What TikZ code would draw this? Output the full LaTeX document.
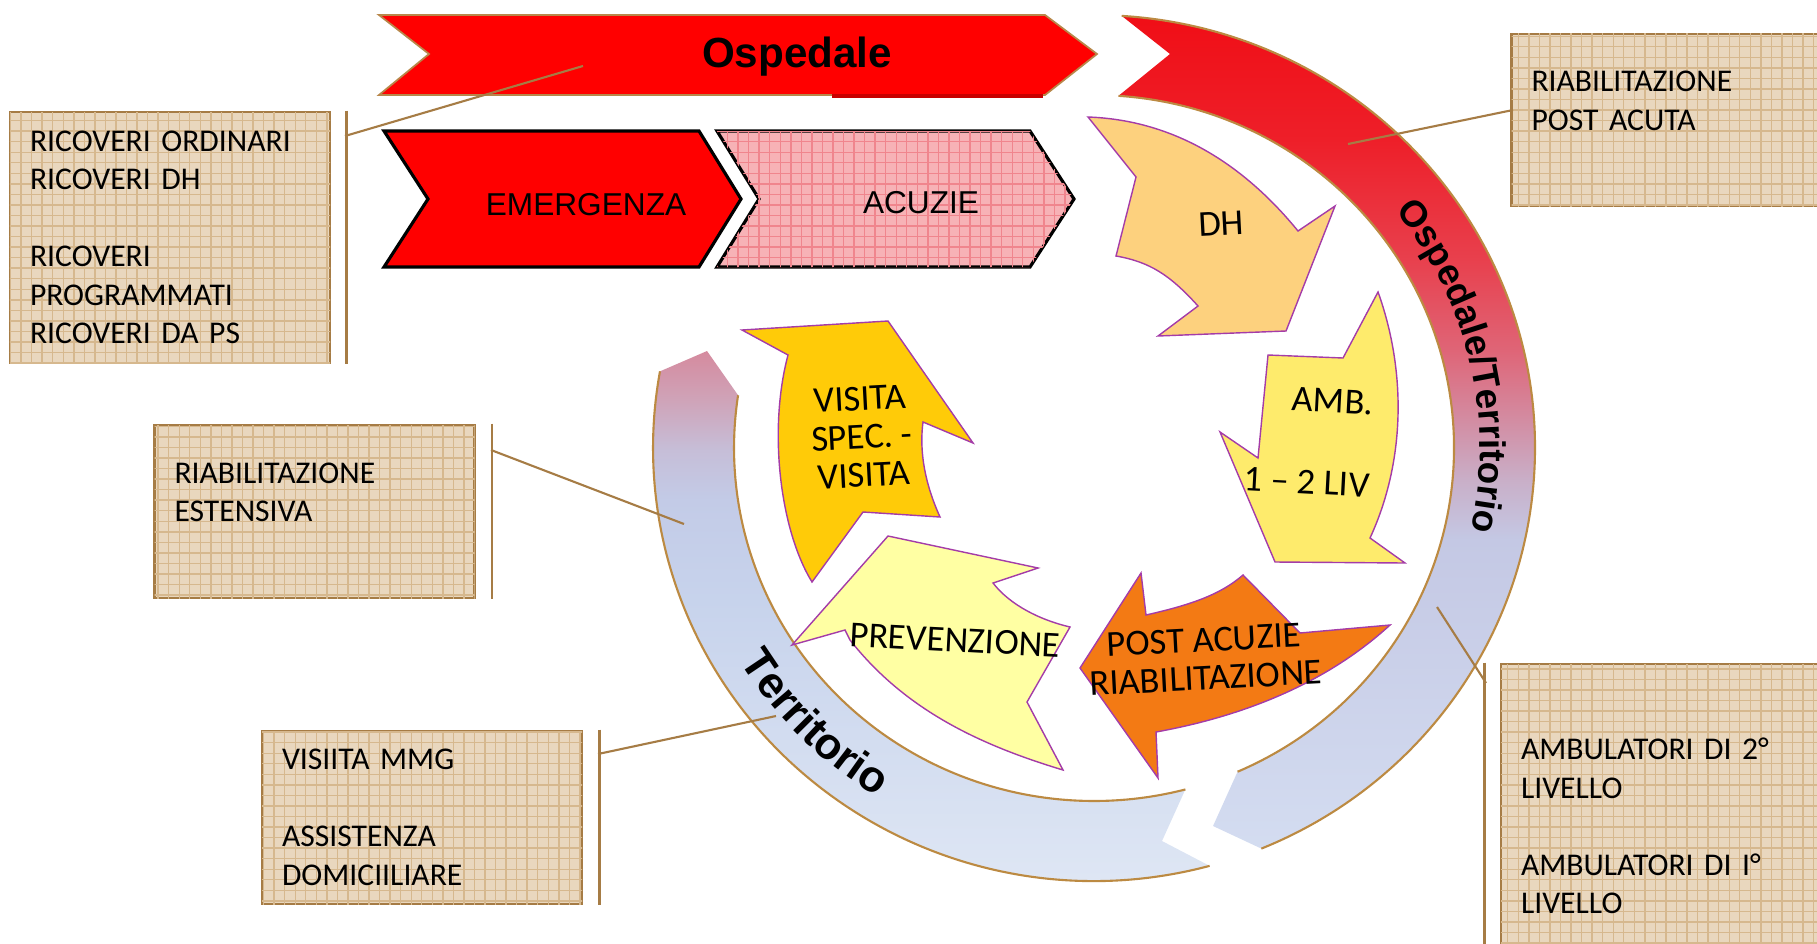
\documentclass[tikz,border=0pt]{standalone}
\usepackage{fontspec}
\setmainfont{Carlito}
\newfontfamily\arialfont{Liberation Sans}
\usetikzlibrary{patterns,decorations.text}

\definecolor{sabbia}{HTML}{E9D7BE}
\definecolor{grigliasabbia}{HTML}{D6B88E}
\definecolor{marrone}{HTML}{A67C45}
\definecolor{rossoosp}{HTML}{FF0000}
\definecolor{rossoscuro}{HTML}{C80000}
\definecolor{bordochev}{HTML}{B8874A}
\definecolor{rosaacuzie}{HTML}{F7B2B6}
\definecolor{grigliaacuzie}{HTML}{F0858D}
\definecolor{viola}{HTML}{A43CA8}
\definecolor{bordoanello}{HTML}{BC8A42}
\definecolor{fondoDH}{HTML}{FDD17E}
\definecolor{fondoAMB}{HTML}{FEEB6C}
\definecolor{fondoPOST}{HTML}{F37A14}
\definecolor{fondoPREV}{HTML}{FFFFA3}
\definecolor{fondoVIS}{HTML}{FFCB08}
% sfumature anello
\definecolor{dxA}{HTML}{D4DDF1}
\definecolor{dxB}{HTML}{C4C8E4}
\definecolor{dxC}{HTML}{C9AFC8}
\definecolor{dxD}{HTML}{D38CA2}
\definecolor{dxE}{HTML}{DF6577}
\definecolor{dxF}{HTML}{E8404D}
\definecolor{dxG}{HTML}{EE1F29}
\definecolor{dxH}{HTML}{F00E16}
\definecolor{sxA}{HTML}{DEE6F4}
\definecolor{sxB}{HTML}{C7D3EC}
\definecolor{sxC}{HTML}{C3CBE7}
\definecolor{sxD}{HTML}{C6BED8}
\definecolor{sxE}{HTML}{CFA3B8}
\definecolor{sxF}{HTML}{D58A9E}
\pgfdeclareverticalshading{anellodx}{100bp}{color(0bp)=(dxA); color(25bp)=(dxA);
  color(43.9bp)=(dxB); color(47.4bp)=(dxC); color(51bp)=(dxD); color(55.1bp)=(dxE);
  color(60.5bp)=(dxF); color(67.6bp)=(dxG); color(75bp)=(dxH); color(100bp)=(dxH)}
\pgfdeclareverticalshading{anellosx}{100bp}{color(0bp)=(sxA); color(25bp)=(sxA);
  color(51.5bp)=(sxB); color(60.9bp)=(sxC); color(65.6bp)=(sxD); color(70.4bp)=(sxE);
  color(75bp)=(sxF); color(100bp)=(sxF)}

\begin{document}
\begin{tikzpicture}[
        infobox/.style={draw=marrone, line width=0.8pt, fill=sabbia,
          postaction={pattern=grid, pattern color=grigliasabbia},
          inner xsep=0.2cm, text width=2.8cm, align=left,
          font=\fontsize{9}{10.95}\selectfont},
        barra/.style={draw=marrone, line width=0.8pt},
        colleg/.style={draw=marrone, line width=0.6pt},
        chevosp/.style={fill=rossoosp, draw=bordochev, line width=0.5pt},
        chevrosso/.style={fill=rossoosp, draw=black, line width=0.9pt},
        chevrosa/.style={fill=rosaacuzie, draw=black, line width=0.9pt,
          postaction={pattern=grid, pattern color=grigliaacuzie}},
        freccia/.style={draw=viola, line width=0.4pt},
        etfreccia/.style={font=\fontsize{10.4}{10.9}\selectfont, align=center, inner sep=0pt},
        etchev/.style={font=\arialfont\fontsize{9}{9}\selectfont, anchor=base},
        bordoarco/.style={draw=bordoanello, line width=0.6pt}
    ]
        \useasboundingbox (0,0) rectangle (18.17,9.43);
        \clip (0,0) rectangle (18.17,9.43);

        % anello
        \begin{scope}[shift={(10.94,4.95)}]
            % arco ospedale/territorio
            \begin{scope}
                \clip (86.4:4.41 and 4.33) arc[start angle=86.4, end angle=-67.7, x radius=4.41, y radius=4.33]
                    -- (1.19,-3.78) -- (-66.5:3.60 and 3.53)
                    arc[start angle=-66.5, end angle=86.1, x radius=3.60, y radius=3.53]
                    -- (0.76,3.94) -- cycle;
                \shade[shading=anellodx] (-4.6,-4.10) rectangle (4.6,4.33);
            \end{scope}
            \draw[bordoarco] (86.4:4.41 and 4.33) arc[start angle=86.4, end angle=-67.7, x radius=4.41, y radius=4.33];
            \draw[bordoarco] (86.1:3.60 and 3.53) arc[start angle=86.1, end angle=-66.5, x radius=3.60, y radius=3.53];
            % arco territorio
            \begin{scope}
                \clip (-74.8:4.41 and 4.33) arc[start angle=-74.8, end angle=-190.2, x radius=4.41, y radius=4.33]
                    -- (-3.87,0.97) -- (-188.6:3.60 and 3.53)
                    arc[start angle=-188.6, end angle=-75.3, x radius=3.60, y radius=3.53]
                    -- (0.68,-3.93) -- cycle;
                \shade[shading=anellosx] (-4.6,-4.32) rectangle (4.6,0.97);
            \end{scope}
            \draw[bordoarco] (-74.8:4.41 and 4.33) arc[start angle=-74.8, end angle=-190.2, x radius=4.41, y radius=4.33];
            \draw[bordoarco] (-75.3:3.60 and 3.53) arc[start angle=-75.3, end angle=-188.6, x radius=3.60, y radius=3.53];
            % scritte sull'anello
            \path[decorate, decoration={text along path, text align=center,
                text={|\arialfont\bfseries\fontsize{10.5}{10.5}\selectfont|Ospedale/Territorio}}]
                (45:3.86 and 3.79) arc[start angle=45, end angle=-19, x radius=3.86, y radius=3.79];
            \path[decorate, decoration={text along path, text align=center,
                text={|\arialfont\bfseries\fontsize{12.5}{12.5}\selectfont|Territorio}}]
                (200:4.16 and 4.08) arc[start angle=200, end angle=250, x radius=4.16, y radius=4.08];
        \end{scope}

        % frecce interne
        \draw[freccia, fill=fondoDH] (10.88,8.26) .. controls (11.70,8.23) and (12.40,7.83) .. (12.98,7.12)
            -- (13.35,7.37) -- (12.86,6.12) -- (11.58,6.07) -- (11.98,6.37)
            .. controls (11.70,6.68) and (11.50,6.81) .. (11.16,6.87) -- (11.36,7.66) -- cycle;
        \draw[freccia, fill=fondoAMB] (12.68,5.88) -- (13.43,5.85) -- (13.78,6.51)
            .. controls (14.06,5.73) and (14.06,4.83) .. (13.70,4.05)
            -- (14.05,3.80) -- (12.75,3.81) -- (12.20,5.11) -- (12.58,4.85) -- cycle;
        \draw[freccia, fill=fondoPOST] (11.41,3.70) -- (11.46,3.28)
            .. controls (11.90,3.38) and (12.20,3.48) .. (12.43,3.68)
            -- (13.00,3.10) -- (13.90,3.18)
            .. controls (13.30,2.63) and (12.50,2.28) .. (11.56,2.11)
            -- (11.58,1.65) -- (10.80,2.75) -- cycle;
        \draw[freccia, fill=fondoPREV] (8.88,4.07) -- (10.38,3.75) -- (9.93,3.60)
            .. controls (10.10,3.38) and (10.40,3.23) .. (10.70,3.16)
            -- (10.27,2.41) -- (10.63,1.73)
            .. controls (9.80,1.98) and (9.05,2.33) .. (8.50,3.03)
            -- (8.45,3.13) -- (7.92,2.98) -- cycle;
        \draw[freccia, fill=fondoVIS] (7.42,6.13) -- (8.88,6.22) -- (9.73,5.00) -- (9.23,5.21)
            .. controls (9.18,4.83) and (9.30,4.48) .. (9.40,4.26)
            -- (8.63,4.31) -- (8.12,3.61)
            .. controls (7.80,4.13) and (7.68,5.13) .. (7.88,5.88) -- cycle;
        \node[etfreccia, rotate=3] (dh) at (12.21,7.19) {DH};
        \node[etfreccia, align=right, rotate=-3] (amb) at (13.09,5.02) {AMB.\\[0.44cm]1 -- 2 LIV};
        \node[etfreccia, rotate=3] (post) at (12.05,2.84) {POST ACUZIE\\RIABILITAZIONE};
        \node[etfreccia, rotate=-3] (prev) at (9.55,3.03) {PREVENZIONE};
        \node[etfreccia, rotate=3] (visita) at (8.62,5.06) {VISITA\\SPEC. -\\VISITA};

        % chevron
        \draw[chevosp] (3.79,9.28) -- (10.45,9.28) -- (10.97,8.89) -- (10.45,8.48)
            -- (3.79,8.48) -- (4.29,8.89) -- cycle;
        \draw[rossoscuro, line width=1pt] (8.32,8.47) -- (10.43,8.47);
        \draw[chevrosso] (3.84,8.12) -- (6.99,8.12) -- (7.41,7.44) -- (6.99,6.76)
            -- (3.84,6.76) -- (4.28,7.44) -- cycle;
        \draw[chevrosa] (7.17,8.12) -- (10.30,8.12) -- (10.74,7.44) -- (10.30,6.76)
            -- (7.17,6.76) -- (7.59,7.44) -- cycle;
        \node[anchor=base, font=\arialfont\bfseries\fontsize{12}{12}\selectfont] (osp) at (7.97,8.75) {Ospedale};
        \node[etchev] (emerg) at (5.86,7.28) {EMERGENZA};
        \node[etchev] (acuzie) at (9.21,7.30) {ACUZIE};

        % riquadri
        \node[infobox, minimum height=2.51cm] (ricoveri) at (1.70,7.055)
            {RICOVERI ORDINARI\\RICOVERI DH\\~\\RICOVERI\\PROGRAMMATI\\RICOVERI DA PS};
        \node[infobox, minimum height=1.72cm] (postacuta) at (16.715,8.23)
            {RIABILITAZIONE\\POST ACUTA\\~};
        \node[infobox, minimum height=1.73cm] (estensiva) at (3.145,4.315)
            {RIABILITAZIONE\\ESTENSIVA\\~};
        \node[infobox, minimum height=1.73cm] (mmg) at (4.22,1.255)
            {VISIITA MMG\\~\\ASSISTENZA\\DOMICIILIARE};
        \node[infobox, minimum height=3.24cm] (ambulatori) at (16.61,1.17)
            {AMBULATORI DI 2°\\LIVELLO\\~\\AMBULATORI DI I°\\LIVELLO};

        % barre
        \draw[barra] ([xshift=0.15cm]ricoveri.north east) -- ([xshift=0.15cm]ricoveri.south east);
        \draw[barra] ([xshift=0.16cm]estensiva.north east) -- ([xshift=0.16cm]estensiva.south east);
        \draw[barra] ([xshift=0.16cm]mmg.north east) -- ([xshift=0.16cm]mmg.south east);
        \draw[barra] ([xshift=-0.15cm]ambulatori.north west) -- ([xshift=-0.15cm]ambulatori.south west);

        % collegamenti
        \coordinate (aRic) at (3.45,8.07);
        \coordinate (pOsp) at (5.83,8.77);
        \coordinate (aPost) at (15.13,8.33);
        \coordinate (pDx) at (13.48,7.99);
        \coordinate (aEst) at (4.91,4.93);
        \coordinate (pSx) at (6.84,4.19);
        \coordinate (aMmg) at (5.98,1.89);
        \coordinate (pTer) at (7.76,2.27);
        \coordinate (pBasso) at (14.37,3.36);
        \coordinate (aAmb) at (14.86,2.60);
        \draw[colleg] (aRic) -- (pOsp);
        \draw[colleg] (aPost) -- (pDx);
        \draw[colleg] (aEst) -- (pSx);
        \draw[colleg] (aMmg) -- (pTer);
        \draw[colleg] (pBasso) -- (aAmb);
    \end{tikzpicture}
\end{document}
